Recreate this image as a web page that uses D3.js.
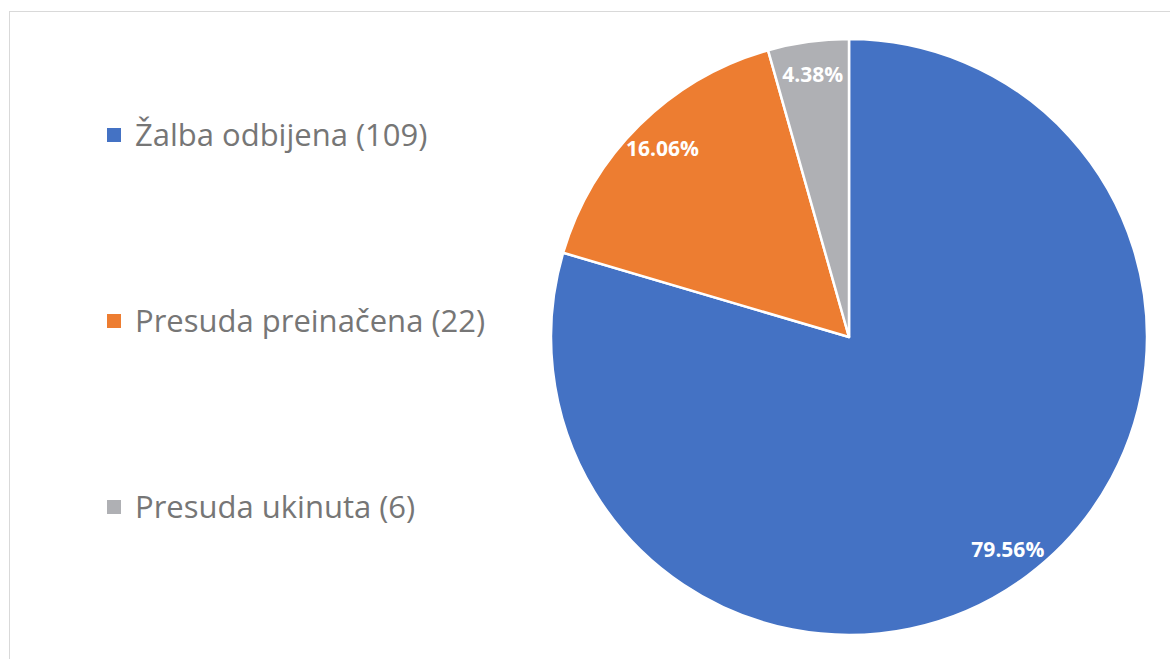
<!DOCTYPE html>
<html>
<head>
<meta charset="utf-8">
<script src="https://cdn.jsdelivr.net/npm/d3@7"></script>
<style>
body{margin:0;background:#fff;}
svg{display:block;}
</style>
</head>
<body>
<svg id="chart"></svg>
<script>
const categories = ["Žalba odbijena", "Presuda preinačena", "Presuda ukinuta"];
const counts = [109, 22, 6];
const percentLabels = ["79.56%", "16.06%", "4.38%"];
const colors = ["#4472c4", "#ed7d31", "#afb0b4"];

const width = 1170, height = 659;
const cx = 849, cy = 337, radius = 298;

const svg = d3.select("#chart")
    .attr("width", width)
    .attr("height", height);

// chart area frame
svg.append("rect")
    .attr("x", 9.5).attr("y", 11.5)
    .attr("width", width + 20).attr("height", height + 20)
    .attr("fill", "none")
    .attr("stroke", "#d9d9d9")
    .attr("stroke-width", 1);

const data = categories.map((c, i) => ({name: c, value: counts[i], label: percentLabels[i], color: colors[i]}));

const pie = d3.pie().value(d => d.value).sort(null);
const arc = d3.arc().innerRadius(0).outerRadius(radius);
const labelArc = d3.arc().innerRadius(radius * 0.89).outerRadius(radius * 0.89);

const g = svg.append("g").attr("transform", `translate(${cx},${cy})`);
const arcs = pie(data);

g.selectAll("path")
    .data(arcs)
    .enter()
    .append("path")
    .attr("d", arc)
    .attr("fill", d => d.data.color)
    .attr("stroke", "#fff")
    .attr("stroke-width", 2.5)
    .attr("stroke-linejoin", "round");

g.selectAll("text.pct")
    .data(arcs)
    .enter()
    .append("text")
    .attr("class", "pct")
    .attr("transform", d => `translate(${labelArc.centroid(d)})`)
    .attr("text-anchor", "middle")
    .attr("dy", "0.35em")
    .attr("fill", "#fff")
    .attr("font-family", "'Open Sans', sans-serif")
    .attr("font-weight", "bold")
    .attr("font-size", 21)
    .text(d => d.data.label);

// legend
const legendY = d3.scalePoint().domain(categories).range([135, 507]);
const legend = svg.append("g");
const items = legend.selectAll("g")
    .data(data)
    .enter()
    .append("g")
    .attr("transform", d => `translate(107,${legendY(d.name)})`);

items.append("rect")
    .attr("x", 0).attr("y", -7)
    .attr("width", 14).attr("height", 14)
    .attr("fill", d => d.color);

items.append("text")
    .attr("x", 28)
    .attr("y", 0)
    .attr("dy", "0.36em")
    .attr("fill", "#767676")
    .attr("font-family", "'Open Sans', sans-serif")
    .attr("font-size", 31)
    .text(d => `${d.name} (${d.value})`);
</script>
</body>
</html>
